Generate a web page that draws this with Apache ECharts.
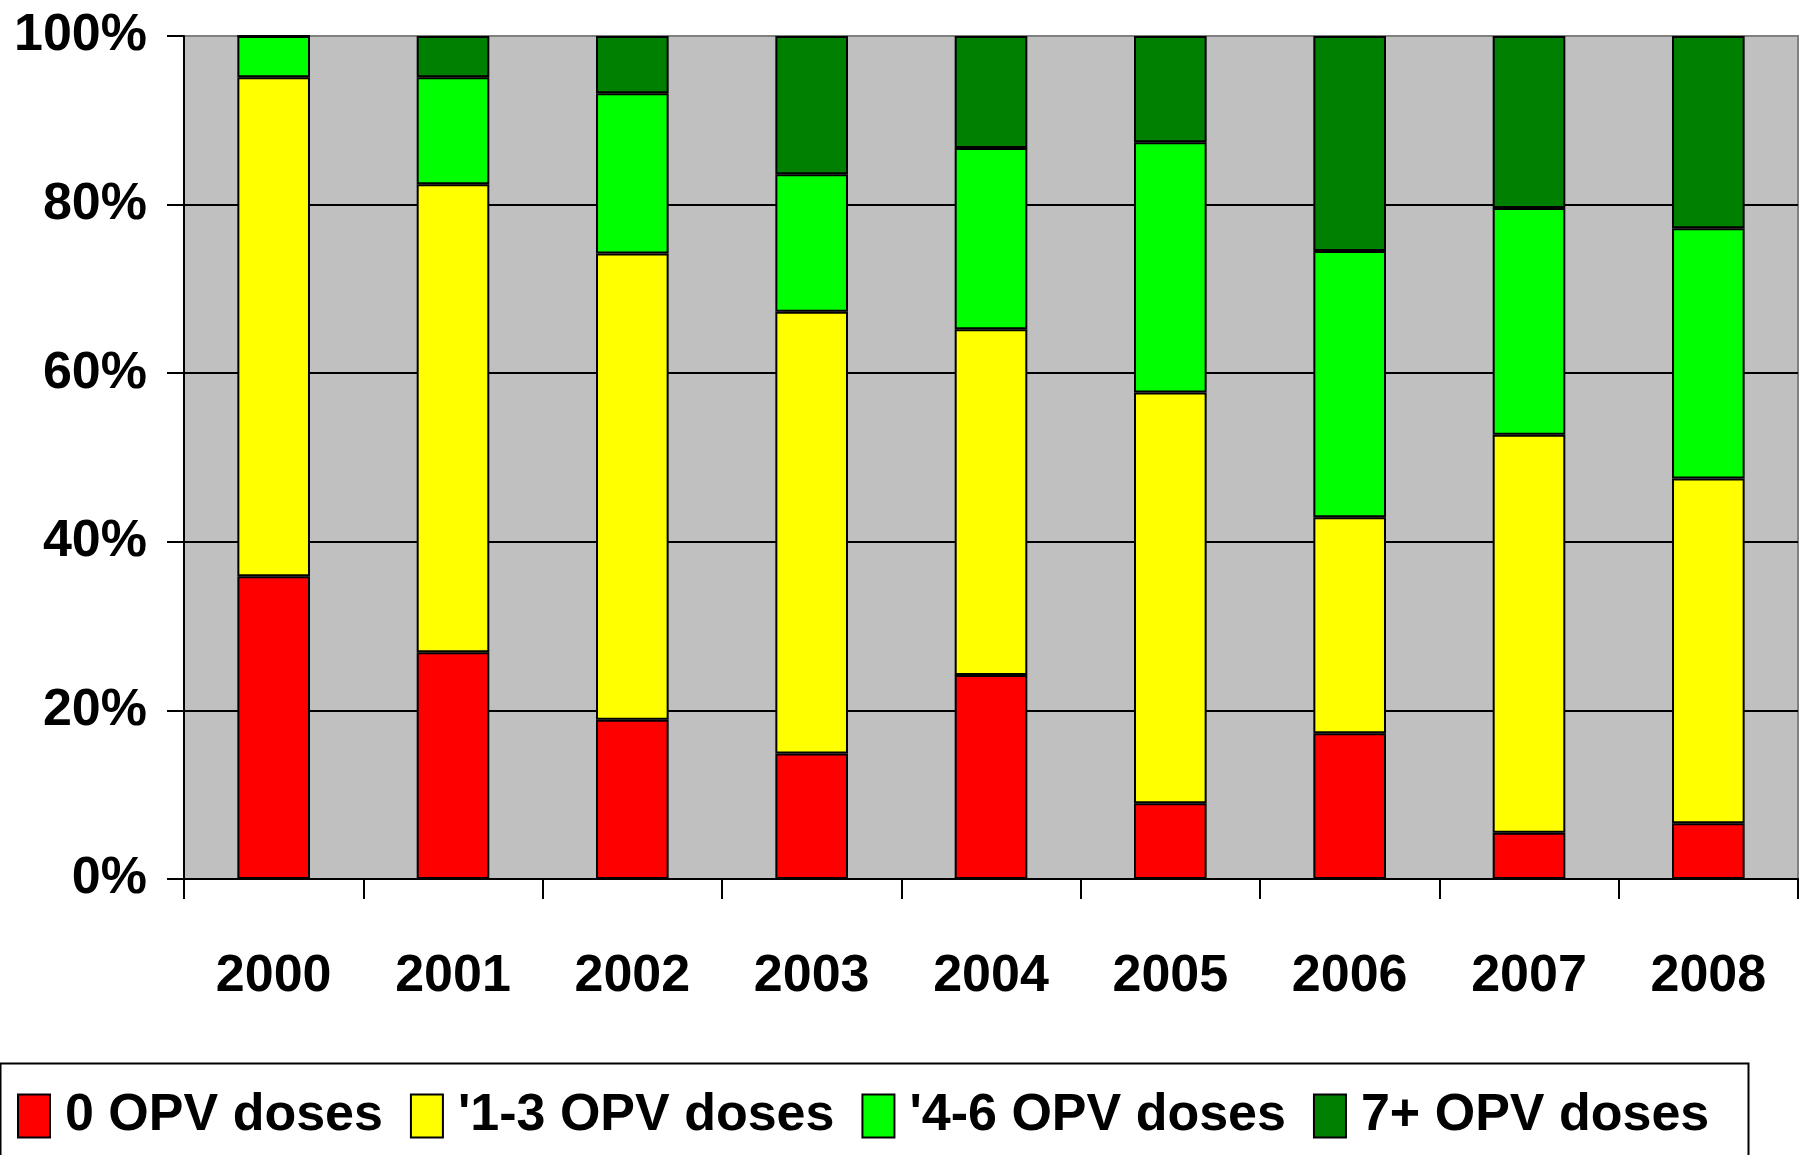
<!DOCTYPE html>
<html>
<head>
<meta charset="utf-8">
<script src="https://cdn.jsdelivr.net/npm/echarts@6/dist/echarts.min.js"></script>
<style>
html,body{margin:0;padding:0;background:#fff;}
#chart{width:1807px;height:1155px;}
</style>
</head>
<body>
<div id="chart"></div>
<script>
var categories = ['2000','2001','2002','2003','2004','2005','2006','2007','2008'];
var seriesNames = ['0 OPV doses', "'1-3 OPV doses", "'4-6 OPV doses", '7+ OPV doses'];
var dose0 = [35.9, 26.9, 18.9, 14.9, 24.2, 9.0, 17.3, 5.5, 6.6];
var dose1to3 = [59.2, 55.5, 55.3, 52.4, 41.0, 48.7, 25.6, 47.2, 40.9];
var dose4to6 = [4.9, 12.7, 19.0, 16.3, 21.5, 29.7, 31.6, 26.9, 29.7];
var dose7plus = [0, 4.9, 6.8, 16.4, 13.3, 12.6, 25.5, 20.4, 22.8];
var yTicks = [0, 20, 40, 60, 80, 100];

var colors = ['#FF0000', '#FFFF00', '#00FF00', '#008000'];
var FONT = '"Liberation Sans", Arial, sans-serif';
var FS = 52;
var chart = echarts.init(document.getElementById('chart'));
var dataSets = [dose0, dose1to3, dose4to6, dose7plus];
var series = dataSets.map(function (d, i) {
  return {
    name: seriesNames[i],
    type: 'bar',
    stack: 'total',
    data: d,
    barWidth: '40.5%',
    itemStyle: { color: colors[i], borderColor: '#000', borderWidth: 2 },
    emphasis: { disabled: true }
  };
});
chart.setOption({
  animation: false,
  textStyle: { fontFamily: FONT },
  grid: {
    left: 184, top: 36, right: 9, bottom: 276,
    show: true, backgroundColor: '#C0C0C0', borderColor: '#808080', borderWidth: 2
  },
  legend: {
    left: 12, top: 1085,
    itemWidth: 32, itemHeight: 43, itemGap: 27,
    icon: 'rect',
    itemStyle: { borderColor: '#000', borderWidth: 2 },
    textStyle: { fontFamily: FONT, fontSize: FS, fontWeight: 'bold', color: '#000', padding: [0, 0, 0, 10] },
    data: seriesNames
  },
  graphic: [{
    type: 'rect', left: -2, top: 1061, z: 10,
    shape: { width: 1748, height: 200 },
    style: { fill: 'none', stroke: '#000', lineWidth: 2 }
  }],
  xAxis: {
    type: 'category',
    data: categories,
    axisLine: { lineStyle: { color: '#000', width: 2 } },
    axisTick: { show: true, length: 20, lineStyle: { color: '#000', width: 2 } },
    axisLabel: { fontFamily: FONT, fontSize: FS, fontWeight: 'bold', color: '#000', margin: 72 }
  },
  yAxis: {
    type: 'value',
    min: yTicks[0], max: yTicks[yTicks.length - 1], interval: 20,
    axisLine: { show: true, lineStyle: { color: '#000', width: 2 } },
    axisTick: { show: true, length: 17, lineStyle: { color: '#000', width: 2 } },
    splitLine: { show: true, showMaxLine: false, lineStyle: { color: '#000', width: 2 } },
    axisLabel: { fontFamily: FONT, fontSize: FS, fontWeight: 'bold', color: '#000', margin: 37,
      formatter: function (v) { return v + '%'; } }
  },
  series: series
});
</script>
</body>
</html>
